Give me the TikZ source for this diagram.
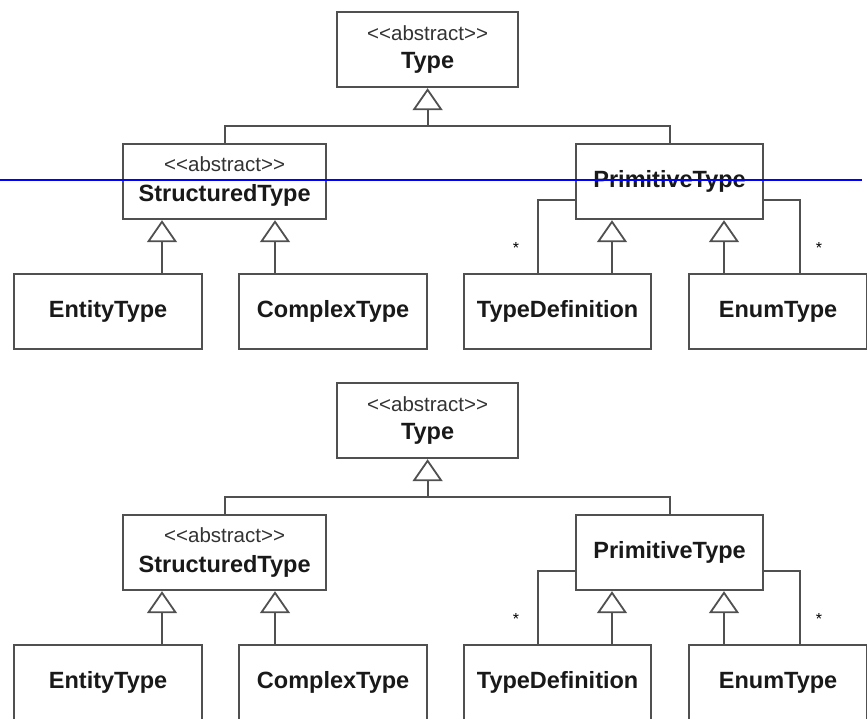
\documentclass[tikz,border=0pt]{standalone}
\usepackage{fontspec}
\newfontfamily\umlfont{Liberation Sans}
\usetikzlibrary{arrows.meta}
\definecolor{umlgray}{HTML}{505050}
\newcommand\stereo{\fontsize{20.5}{22}\selectfont\color{black!80}}
\newcommand\cname{\fontsize{23.5}{26}\selectfont\bfseries\color{black!90}}
\tikzset{
	classbox/.style={draw=umlgray, line width=2.2pt, fill=white, anchor=north west,
		minimum height=75pt, inner sep=0pt, align=center, font=\umlfont},
	gen/.style={draw=umlgray, line width=2pt,
		-{Triangle[open, length=22pt, width=30pt, line width=1.8pt]}},
	assoc/.style={draw=umlgray, line width=2pt},
	mult/.style={font=\umlfont\fontsize{16}{16}\selectfont, inner sep=0pt}
}
\begin{document}
\begin{tikzpicture}[x=1pt,y=-1pt]
			\useasboundingbox (0,0) rectangle (867,719);
			% ---- oben ----
			% Klassen
			\node[classbox, minimum width=181pt] (type1) at (336,11) {\stereo <<abstract>>\\[11pt]\cname Type};
			\node[classbox, minimum width=203pt] (structured1) at (122,143) {\stereo <<abstract>>\\[11pt]\cname StructuredType};
			\node[classbox, minimum width=187pt] (primitive1) at (575,143) {\cname PrimitiveType};
			\node[classbox, minimum width=188pt] (entity1) at (13,273) {\cname EntityType};
			\node[classbox, minimum width=188pt] (complex1) at (238,273) {\cname ComplexType};
			\node[classbox, minimum width=187pt] (typedef1) at (463,273) {\cname TypeDefinition};
			\node[classbox, minimum width=178pt] (enum1) at (688,273) {\cname EnumType};
			% Vererbung Type
			\coordinate (join1) at ([yshift=-38pt]type1.south);
			\draw[assoc] (structured1.north) |- (join1) -| (primitive1.north);
			\draw[gen] (join1) -- (type1.south);
			% Vererbung StructuredType
			\coordinate (s11) at ([xshift=40pt]structured1.south west);
			\coordinate (s12) at ([xshift=153pt]structured1.south west);
			\draw[gen] (s11 |- entity1.north) -- (s11);
			\draw[gen] (s12 |- complex1.north) -- (s12);
			% Vererbung PrimitiveType
			\coordinate (p11) at ([xshift=37pt]primitive1.south west);
			\coordinate (p12) at ([xshift=149pt]primitive1.south west);
			\draw[gen] (p11 |- typedef1.north) -- (p11);
			\draw[gen] (p12 |- enum1.north) -- (p12);
			% Assoziationen
			\draw[assoc] ([yshift=-18pt]primitive1.west) -| ([xshift=-19.5pt]typedef1.north);
			\draw[assoc] ([yshift=-18pt]primitive1.east) -| ([xshift=22pt]enum1.north);
			\node[mult] (star11) at (516,248) {*};
			\node[mult] (star12) at (819,248) {*};
			
			% ---- unten ----
			% Klassen
			\node[classbox, minimum width=181pt] (type2) at (336,382) {\stereo <<abstract>>\\[11pt]\cname Type};
			\node[classbox, minimum width=203pt] (structured2) at (122,514) {\stereo <<abstract>>\\[11pt]\cname StructuredType};
			\node[classbox, minimum width=187pt] (primitive2) at (575,514) {\cname PrimitiveType};
			\node[classbox, minimum width=188pt] (entity2) at (13,644) {\cname EntityType};
			\node[classbox, minimum width=188pt] (complex2) at (238,644) {\cname ComplexType};
			\node[classbox, minimum width=187pt] (typedef2) at (463,644) {\cname TypeDefinition};
			\node[classbox, minimum width=178pt] (enum2) at (688,644) {\cname EnumType};
			% Vererbung Type
			\coordinate (join2) at ([yshift=-38pt]type2.south);
			\draw[assoc] (structured2.north) |- (join2) -| (primitive2.north);
			\draw[gen] (join2) -- (type2.south);
			% Vererbung StructuredType
			\coordinate (s21) at ([xshift=40pt]structured2.south west);
			\coordinate (s22) at ([xshift=153pt]structured2.south west);
			\draw[gen] (s21 |- entity2.north) -- (s21);
			\draw[gen] (s22 |- complex2.north) -- (s22);
			% Vererbung PrimitiveType
			\coordinate (p21) at ([xshift=37pt]primitive2.south west);
			\coordinate (p22) at ([xshift=149pt]primitive2.south west);
			\draw[gen] (p21 |- typedef2.north) -- (p21);
			\draw[gen] (p22 |- enum2.north) -- (p22);
			% Assoziationen
			\draw[assoc] ([yshift=-18pt]primitive2.west) -| ([xshift=-19.5pt]typedef2.north);
			\draw[assoc] ([yshift=-18pt]primitive2.east) -| ([xshift=22pt]enum2.north);
			\node[mult] (star21) at (516,619) {*};
			\node[mult] (star22) at (819,619) {*};
			
			% blaue Linie
			\draw[blue, line width=2pt] (0,180) -- (862,180);
\end{tikzpicture}
\end{document}
